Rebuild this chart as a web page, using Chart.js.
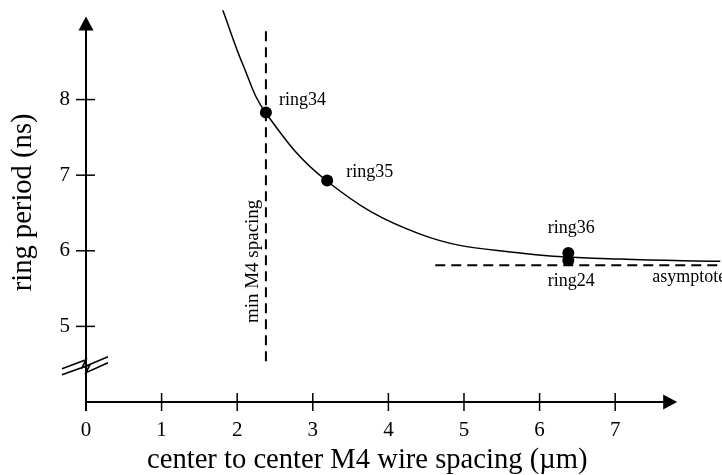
<!DOCTYPE html>
<html>
<head>
<meta charset="utf-8">
<script src="https://cdn.jsdelivr.net/npm/chart.js@4.4.1/dist/chart.umd.min.js"></script>
<style>
  html, body { margin: 0; padding: 0; background: #fff; }
  #wrap { width: 722px; height: 475px; }
</style>
</head>
<body>
<div id="wrap"><canvas id="ringChart"></canvas></div>
<script>
// Fitted curve (spacing in um, period in ns)
const curveX = [1.81, 2.08, 2.38, 3.19, 4.42, 5.74, 7.06, 8.39];
const curveY = [9.18, 8.45, 7.82, 6.92, 6.22, 5.97, 5.89, 5.86];

// Measured rings
const ringNames = ["ring34", "ring35", "ring36", "ring24"];
const ringX = [2.38, 3.19, 6.38, 6.38];
const ringY = [7.83, 6.93, 5.97, 5.875];

// Reference lines
const minSpacing = 2.38;
const minSpacingSpan = [4.54, 8.98];
const asymptoteY = 5.81;
const asymptoteSpan = [4.62, 8.42];

// Axes
const xTicks = [0, 1, 2, 3, 4, 5, 6, 7];
const yTicks = [5, 6, 7, 8];
const xTitle = "center to center M4 wire spacing (\u00b5m)";
const yTitle = "ring period (ns)";

const SERIF = '"Liberation Serif", "Times New Roman", serif';

// Helper: draw a filled arrow head
function arrowHead(ctx, tipX, tipY, dir) {
  ctx.beginPath();
  if (dir === "up") {
    ctx.moveTo(tipX, tipY);
    ctx.lineTo(tipX - 7.5, tipY + 14);
    ctx.lineTo(tipX + 7.5, tipY + 14);
  } else {
    ctx.moveTo(tipX, tipY);
    ctx.lineTo(tipX - 14, tipY - 7.5);
    ctx.lineTo(tipX - 14, tipY + 7.5);
  }
  ctx.closePath();
  ctx.fill();
}

// Hand-drawn axes, break mark and annotation texts
const sketchPlugin = {
  id: "sketch",
  afterDraw(chart) {
    const ctx = chart.ctx;
    const xs = chart.scales.x;
    const ys = chart.scales.y;
    const x0 = xs.getPixelForValue(0);
    const y0 = ys.getPixelForValue(4);

    ctx.save();
    ctx.strokeStyle = "#000";
    ctx.fillStyle = "#000";
    ctx.lineWidth = 2;

    // y axis + arrow
    const yTip = ys.getPixelForValue(9.1);
    ctx.beginPath();
    ctx.moveTo(x0, yTip + 10);
    ctx.lineTo(x0, y0 + 9);
    ctx.stroke();
    arrowHead(ctx, x0, yTip, "up");

    // x axis + arrow
    const xTip = xs.getPixelForValue(7.82);
    ctx.beginPath();
    ctx.moveTo(x0, y0);
    ctx.lineTo(xTip - 10, y0);
    ctx.stroke();
    arrowHead(ctx, xTip, y0, "right");

    // tick marks crossing the axes
    ctx.lineWidth = 1.5;
    xTicks.slice(1).forEach((v) => {
      const px = xs.getPixelForValue(v);
      ctx.beginPath();
      ctx.moveTo(px, y0 - 9);
      ctx.lineTo(px, y0 + 9);
      ctx.stroke();
    });
    yTicks.forEach((v) => {
      const py = ys.getPixelForValue(v);
      ctx.beginPath();
      ctx.moveTo(x0 - 10, py);
      ctx.lineTo(x0 + 9, py);
      ctx.stroke();
    });

    // axis break (double zigzag)
    const yb = ys.getPixelForValue(4.48);
    const top = [[-24, 3], [0, -6], [-4, 2], [22, -9]];
    const bot = [[-24, 9], [4, -1], [0, 7], [22, -3]];
    ctx.fillStyle = "#fff";
    ctx.beginPath();
    top.forEach(([dx, dy], i) => (i ? ctx.lineTo : ctx.moveTo).call(ctx, x0 + dx, yb + dy));
    bot.slice().reverse().forEach(([dx, dy]) => ctx.lineTo(x0 + dx, yb + dy));
    ctx.closePath();
    ctx.fill();
    ctx.lineWidth = 1.6;
    [top, bot].forEach((pts) => {
      ctx.beginPath();
      pts.forEach(([dx, dy], i) => (i ? ctx.lineTo : ctx.moveTo).call(ctx, x0 + dx, yb + dy));
      ctx.stroke();
    });

    // ring labels, placed next to their dots
    ctx.fillStyle = "#000";
    ctx.font = "18px " + SERIF;
    ctx.textBaseline = "alphabetic";
    const offsets = [[13, -7, "left"], [19, -3, "left"], [3, -20, "center"], [3, 26, "center"]];
    ringNames.forEach((name, i) => {
      const [dx, dy, align] = offsets[i];
      ctx.textAlign = align;
      ctx.fillText(name, xs.getPixelForValue(ringX[i]) + dx, ys.getPixelForValue(ringY[i]) + dy);
    });

    // asymptote label
    ctx.textAlign = "left";
    ctx.fillText("asymptote", xs.getPixelForValue(7.49), ys.getPixelForValue(asymptoteY) + 17);

    // rotated label of the min spacing line
    ctx.save();
    ctx.font = "19px " + SERIF;
    ctx.translate(xs.getPixelForValue(minSpacing) - 8, ys.getPixelForValue(5.86));
    ctx.rotate(-Math.PI / 2);
    ctx.textAlign = "center";
    ctx.fillText("min M4 spacing", 0, 0);
    ctx.restore();

    // axis titles
    ctx.font = "28.6px " + SERIF;
    ctx.textAlign = "center";
    ctx.fillText(xTitle, xs.getPixelForValue(3.72), chart.height - 7);
    ctx.save();
    ctx.translate(31, ys.getPixelForValue(6.64));
    ctx.rotate(-Math.PI / 2);
    ctx.fillText(yTitle, 0, 0);
    ctx.restore();

    ctx.restore();
  },
};

const ctx = document.getElementById("ringChart").getContext("2d");
new Chart(ctx, {
  type: "scatter",
  data: {
    datasets: [
      {
        label: "fit",
        data: curveX.map((x, i) => ({ x: x, y: curveY[i] })),
        showLine: true,
        borderColor: "#000",
        borderWidth: 1.5,
        pointRadius: 0,
        tension: 0.4,
      },
      {
        label: "min M4 spacing",
        data: minSpacingSpan.map((y) => ({ x: minSpacing, y: y })),
        showLine: true,
        borderColor: "#000",
        borderWidth: 2,
        borderDash: [10, 6],
        pointRadius: 0,
      },
      {
        label: "asymptote",
        data: asymptoteSpan.map((x) => ({ x: x, y: asymptoteY })),
        showLine: true,
        borderColor: "#000",
        borderWidth: 2,
        borderDash: [10, 6],
        pointRadius: 0,
      },
      {
        label: "rings",
        data: ringX.map((x, i) => ({ x: x, y: ringY[i] })),
        pointRadius: 6,
        pointBackgroundColor: "#000",
        pointBorderWidth: 0,
      },
    ],
  },
  options: {
    responsive: true,
    maintainAspectRatio: false,
    animation: false,
    layout: { padding: 0, autoPadding: false },
    plugins: { legend: { display: false }, tooltip: { enabled: false } },
    scales: {
      x: {
        type: "linear",
        min: 0,
        max: 8.413,
        afterBuildTicks: (s) => { s.ticks = xTicks.map((v) => ({ value: v })); },
        afterFit: (s) => {
          s.height = 73;
          s.paddingLeft = 0;
          s.paddingRight = 0;
        },
        grid: { display: false, drawTicks: false },
        border: { display: false },
        ticks: { color: "#000", padding: 16, font: { family: SERIF, size: 21 } },
      },
      y: {
        type: "linear",
        min: 4,
        max: 9.317,
        afterBuildTicks: (s) => { s.ticks = yTicks.map((v) => ({ value: v })); },
        afterFit: (s) => {
          s.width = 86;
          s.paddingTop = 0;
          s.paddingBottom = 0;
        },
        grid: { display: false, drawTicks: false },
        border: { display: false },
        ticks: { color: "#000", padding: 16, font: { family: SERIF, size: 21 } },
      },
    },
  },
  plugins: [sketchPlugin],
});
</script>
</body>
</html>
